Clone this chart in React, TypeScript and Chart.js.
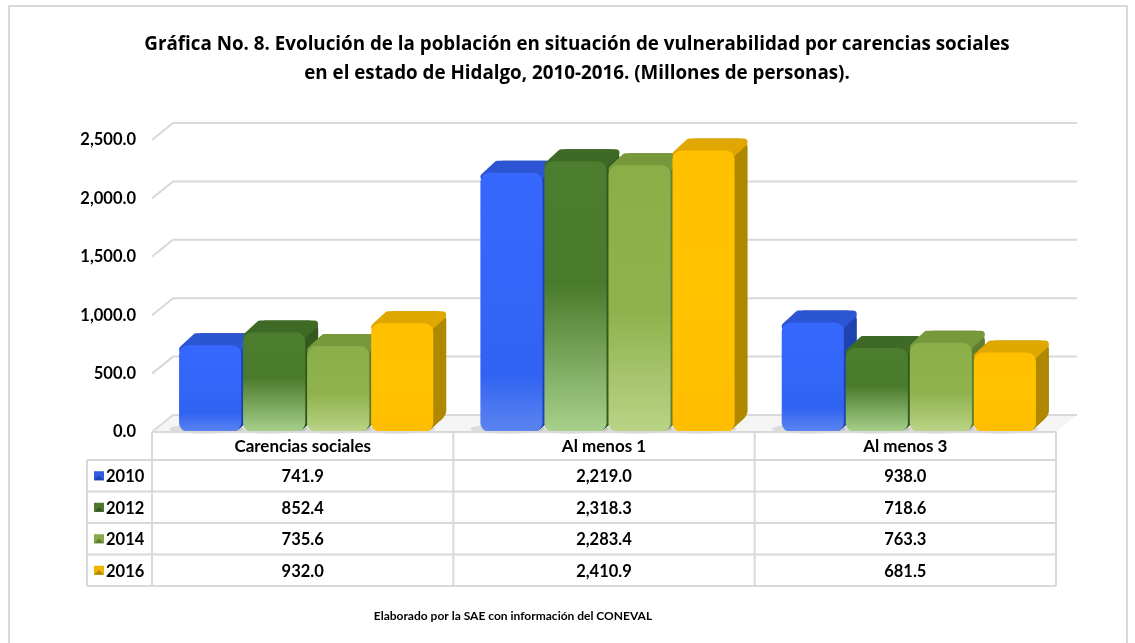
import React, { useEffect, useRef } from 'react';
import { Chart, registerables } from 'chart.js';

Chart.register(...registerables);

const categories = ['Carencias sociales', 'Al menos 1', 'Al menos 3'];
const years = ['2010', '2012', '2014', '2016'];
const values2010 = [741.9, 2219.0, 938.0];
const values2012 = [852.4, 2318.3, 718.6];
const values2014 = [735.6, 2283.4, 763.3];
const values2016 = [932.0, 2410.9, 681.5];
const yTicks = [0, 500, 1000, 1500, 2000, 2500];
const titleLines = [
  'Gráfica No. 8. Evolución de la población en situación de vulnerabilidad por carencias sociales',
  'en el estado de Hidalgo, 2010-2016. (Millones de personas).',
];
const footerText = 'Elaborado por la SAE con información del CONEVAL';

const seriesValues = [values2010, values2012, values2014, values2016];

const FONT = 'Lato, "Noto Sans", sans-serif';
const TITLE_FONT = '"Open Sans", Lato, sans-serif';
const GRID = '#D9D9D9';

const palette = [
  { stops: [[0, '#3668FF'], [0.78, '#3163F2'], [1, '#5D85EF']], top: '#2B55D3', side: '#1F43AE', swatch: '#2E5BE2' },
  { stops: [[0, '#4D7E2F'], [0.45, '#4A7A2B'], [1, '#A8D18C']], top: '#3E6A26', side: '#35591F', swatch: '#4B7A2E' },
  { stops: [[0, '#8BAF48'], [0.55, '#8FB24D'], [1, '#B9D487']], top: '#77983B', side: '#627F30', swatch: '#86AA47' },
  { stops: [[0, '#FFC000'], [0.5, '#FFC300'], [1, '#FFBE00']], top: '#DFA700', side: '#B08800', swatch: '#F0B400' },
];

const WALL_DX = 21;
const WALL_DY = 17;
const BAR_DX = 13;
const BAR_DY = 12;
const RADIUS = 9;
const SHIFT = 3.5; // perspective shift of bars relative to the front table edge

const fmt = (v: number) =>
  v.toLocaleString('en-US', { minimumFractionDigits: 1, maximumFractionDigits: 1 });

const decorPlugin = {
  id: 'decor',
  beforeDraw(chart: any) {
    const { ctx, chartArea: a } = chart;
    const ys = chart.scales.y;
    const L = a.left - SHIFT;
    const R = a.right - SHIFT;
    ctx.save();
    ctx.fillStyle = '#FFFFFF';
    ctx.fillRect(0, 0, chart.width, chart.height);
    ctx.strokeStyle = GRID;
    ctx.lineWidth = 2;
    ctx.strokeRect(9, 6, 1118, 680);
    ctx.fillStyle = '#000';
    ctx.font = `bold 18.8px ${TITLE_FONT}`;
    ctx.textAlign = 'center';
    ctx.textBaseline = 'middle';
    titleLines.forEach((t, i) => ctx.fillText(t, 577, 45 + i * 29));
    const b = ys.getPixelForValue(0);
    ctx.beginPath();
    ctx.moveTo(L, b);
    ctx.lineTo(L + WALL_DX, b - WALL_DY);
    ctx.lineTo(R + WALL_DX, b - WALL_DY);
    ctx.lineTo(R, b);
    ctx.closePath();
    ctx.fillStyle = '#F5F5F5';
    ctx.fill();
    ctx.strokeStyle = GRID;
    ctx.lineWidth = 2;
    yTicks.forEach((v) => {
      const py = ys.getPixelForValue(v);
      ctx.beginPath();
      ctx.moveTo(L, py);
      ctx.lineTo(L + WALL_DX, py - WALL_DY);
      ctx.lineTo(R + WALL_DX, py - WALL_DY);
      ctx.stroke();
    });
    ctx.restore();
  },
  beforeDatasetsDraw(chart: any) {
    const ctx = chart.ctx;
    chart.data.datasets.forEach((_ds: any, di: number) => {
      const meta = chart.getDatasetMeta(di);
      const p = palette[di];
      meta.data.forEach((el: any) => {
        const w = el.width;
        const left = el.x - w / 2;
        const right = el.x + w / 2;
        const top = el.y;
        const base = el.base;
        const h = base - top;
        ctx.save();
        ctx.fillStyle = 'rgba(0,0,0,0.10)';
        ctx.beginPath();
        ctx.ellipse(el.x - 4, base - 3, w / 2 + 6, 5, 0, 0, Math.PI * 2);
        ctx.fill();
        ctx.fillStyle = p.side;
        const steps = 13;
        for (let s = steps; s >= 1; s--) {
          const t = s / steps;
          ctx.beginPath();
          ctx.roundRect(left + BAR_DX * t, top - BAR_DY * t, w, h, RADIUS);
          ctx.fill();
        }
        ctx.fillStyle = p.top;
        ctx.strokeStyle = p.top;
        ctx.lineWidth = 8;
        ctx.lineJoin = 'round';
        ctx.beginPath();
        ctx.moveTo(left + 4, top + 4);
        ctx.lineTo(left + 4 + BAR_DX, top + 4 - BAR_DY);
        ctx.lineTo(right - 4 + BAR_DX, top + 4 - BAR_DY);
        ctx.lineTo(right - 4, top + 4);
        ctx.closePath();
        ctx.fill();
        ctx.stroke();
        ctx.restore();
      });
    });
  },
  afterDraw(chart: any) {
    const { ctx, chartArea: a } = chart;
    const xs = chart.scales.x;
    const L = a.left - SHIFT;
    const R = a.right - SHIFT;
    const colW = (R - L) / categories.length;
    const headTop = a.bottom;
    const headBottom = 460;
    const rowH = 31.5;
    const tableBottom = headBottom + rowH * years.length;
    const legendLeft = 87;
    ctx.save();
    ctx.strokeStyle = GRID;
    ctx.lineWidth = 2;
    ctx.beginPath();
    ctx.moveTo(L, headTop);
    ctx.lineTo(R, headTop);
    for (let r = 0; r <= years.length; r++) {
      const yy = headBottom + r * rowH;
      ctx.moveTo(legendLeft, yy);
      ctx.lineTo(R, yy);
    }
    for (let c = 0; c <= categories.length; c++) {
      const xx = L + c * colW;
      ctx.moveTo(xx, headTop);
      ctx.lineTo(xx, tableBottom);
    }
    ctx.moveTo(legendLeft, headBottom);
    ctx.lineTo(legendLeft, tableBottom);
    ctx.stroke();

    ctx.fillStyle = '#000';
    ctx.textAlign = 'center';
    ctx.textBaseline = 'middle';
    ctx.font = `bold 17px ${FONT}`;
    categories.forEach((c, i) => {
      ctx.fillText(c, xs.getPixelForValue(i) - SHIFT, (headTop + headBottom) / 2 + 1);
    });
    ctx.font = `bold 16.5px ${FONT}`;
    years.forEach((yr, r) => {
      const cy = headBottom + r * rowH + rowH / 2;
      const p = palette[r];
      ctx.fillStyle = p.swatch;
      ctx.fillRect(94, cy - 4.5, 10, 9);
      ctx.fillStyle = p.side;
      ctx.beginPath();
      ctx.moveTo(94, cy + 4.5);
      ctx.lineTo(99, cy);
      ctx.lineTo(104, cy + 4.5);
      ctx.closePath();
      ctx.fill();
      ctx.fillStyle = '#000';
      ctx.textAlign = 'left';
      ctx.fillText(yr, 106, cy + 1);
      ctx.textAlign = 'center';
      seriesValues[r].forEach((v, i) => {
        ctx.fillText(fmt(v), xs.getPixelForValue(i) - SHIFT, cy + 1);
      });
    });
    ctx.font = `bold 12px ${FONT}`;
    ctx.fillText(footerText, 513, 616);
    ctx.restore();
  },
};

export default function App() {
  const canvasRef = useRef<HTMLCanvasElement | null>(null);

  useEffect(() => {
    const canvas = canvasRef.current;
    if (!canvas) return;
    const chart = new Chart(canvas, {
      type: 'bar',
      data: {
        labels: categories,
        datasets: years.map((yr, di) => ({
          label: yr,
          data: seriesValues[di],
          borderWidth: 0,
          borderRadius: RADIUS,
          borderSkipped: false,
          barPercentage: 0.97,
          categoryPercentage: 0.85,
          backgroundColor: (c: any) => {
            const p = palette[di];
            const ch = c.chart;
            const ys = ch.scales && ch.scales.y;
            if (!ys || !ch.chartArea || !c.parsed) return p.stops[1][1];
            const top = ys.getPixelForValue(c.parsed.y);
            const base = ys.getPixelForValue(0);
            const g = ch.ctx.createLinearGradient(0, top, 0, base);
            p.stops.forEach(([o, col]: any) => g.addColorStop(o, col));
            return g;
          },
        })),
      },
      options: {
        responsive: false,
        animation: false,
        layout: { padding: { left: 0, top: 140, right: 79 - SHIFT, bottom: 211 } },
        plugins: {
          legend: { display: false },
          title: { display: false },
          tooltip: { enabled: false },
        },
        scales: {
          x: { display: false },
          y: {
            min: 0,
            max: 2500,
            afterFit: (scale: any) => {
              scale.width = 152 + SHIFT;
            },
            afterBuildTicks: (scale: any) => {
              scale.ticks = yTicks.map((v) => ({ value: v }));
            },
            grid: { display: false, drawTicks: false },
            border: { display: false },
            ticks: {
              padding: 16 + SHIFT,
              color: '#000',
              font: { family: FONT, size: 16.5, weight: 'bold' },
              callback: (v: any) => fmt(Number(v)),
            },
          },
        },
      },
      plugins: [decorPlugin],
    });
    return () => chart.destroy();
  }, []);

  return (
    <div style={{ position: 'fixed', left: 0, top: 0, width: 1135, height: 643, background: '#fff' }}>
      <canvas ref={canvasRef} width={1135} height={643} style={{ display: 'block' }} />
    </div>
  );
}
